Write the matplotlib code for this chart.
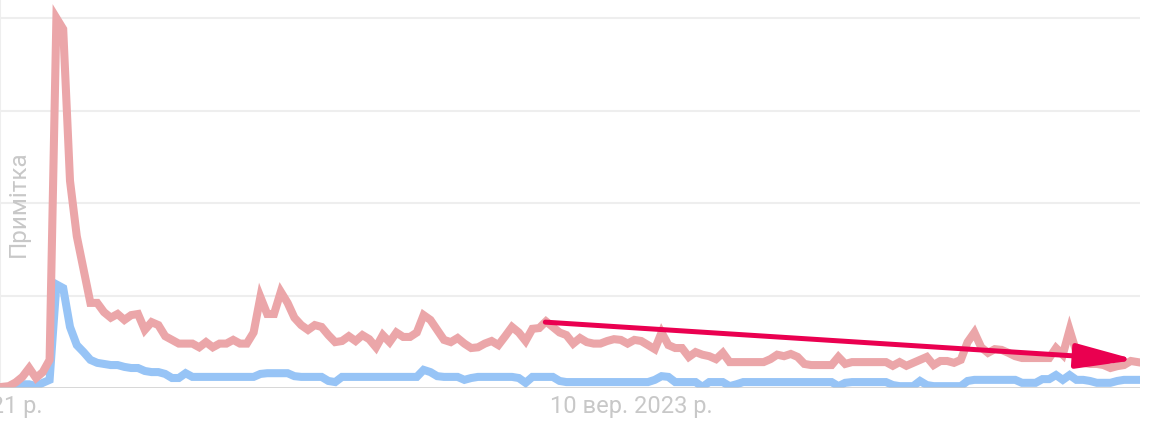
import numpy as np
import matplotlib
matplotlib.use("Agg")
import matplotlib.pyplot as plt
from matplotlib.patches import FancyArrowPatch

plt.rcParams['font.family'] = ['Roboto', 'DejaVu Sans']

# Weekly interest values (0-100)
pink = [0.3, 0.5, 1.5, 3, 5.4, 2.7, 4.3, 7.6, 100, 97,
        56, 41, 32, 23, 23, 20.5, 19, 20, 18.4, 19.7,
        20, 15.7, 17.8, 17, 14, 13, 12, 12, 12, 11,
        12.4, 11, 12, 12, 13, 12, 12, 15, 24.6, 20,
        20, 26, 23, 19, 17, 15.7, 17, 16.5, 14.3, 12.4,
        12.7, 14, 12.7, 14.3, 13.2, 11, 14.3, 12.4, 15, 13.8,
        13.8, 15, 19.7, 18.4, 15.7, 13, 12.4, 13.5, 12, 10.8,
        11, 12, 12.7, 11.6, 14, 16.5, 15, 12.7, 16, 16.2,
        18, 16.5, 15, 14.3, 12, 13.5, 12.4, 12, 12, 12.7,
        13.2, 13, 12, 13, 12.7, 11.6, 10.5, 15, 11.6, 10.8,
        10.8, 8.4, 9.7, 9, 8.6, 7.8, 9.5, 7, 7, 7,
        7, 7, 7, 7.8, 9, 8.6, 9.2, 8.4, 6.5, 6.2,
        6.2, 6.2, 6.2, 8.4, 6.5, 7, 7, 7, 7, 7,
        7, 6, 7, 6, 6.8, 7.6, 8.4, 6.2, 7.3, 7.3,
        6.8, 7.6, 12.4, 15, 11, 9.5, 10.5, 10.3, 9.5, 8.6,
        8.1, 8.1, 8.1, 8.1, 8.1, 10.8, 9, 15.7, 9.7, 6.8,
        6.5, 6.5, 6.2, 5.4, 5.9, 6.2, 7.3, 7]

blue = [0, 0.3, 0.5, 1, 1, 0.5, 1.4, 2.2, 28, 27,
        16.5, 11.6, 9.7, 7.6, 6.8, 6.5, 6.2, 6.2, 5.7, 5.4,
        5.4, 4.6, 4.3, 4.3, 3.8, 2.7, 2.7, 4, 3, 3,
        3, 3, 3, 3, 3, 3, 3, 3, 3.8, 4,
        4, 4, 4, 3.2, 3, 3, 3, 3, 1.9, 1.6,
        3, 3, 3, 3, 3, 3, 3, 3, 3, 3,
        3, 3, 4.9, 4.3, 3.2, 3, 3, 3, 2.2, 2.7,
        3, 3, 3, 3, 3, 3, 2.7, 1.4, 3, 3,
        3, 3, 1.9, 1.6, 1.6, 1.6, 1.6, 1.6, 1.6, 1.6,
        1.6, 1.6, 1.6, 1.6, 1.6, 1.6, 2.2, 3.2, 3, 1.6,
        1.6, 1.6, 1.6, 0.3, 1.6, 1.6, 1.6, 0.5, 1, 1.6,
        1.6, 1.6, 1.6, 1.6, 1.6, 1.6, 1.6, 1.6, 1.6, 1.6,
        1.6, 1.6, 1.6, 0.5, 1.4, 1.6, 1.6, 1.6, 1.6, 1.6,
        1.6, 0.8, 0.5, 0.5, 0.5, 1.9, 0.8, 0.5, 0.5, 0.5,
        0.5, 0.5, 1.9, 2.2, 2.2, 2.2, 2.2, 2.2, 2.2, 2.2,
        1.4, 1.4, 1.4, 2.4, 2.4, 3.5, 2.2, 3.5, 2.2, 2.2,
        1.9, 1.4, 1.4, 1.4, 1.9, 2.2, 2.2, 2.2]

gridlines = [25, 50, 75, 100]
tick_labels = ["10 жовт. 2021 р.", "10 вер. 2023 р."]
y_label = "Примітка"
trend_start = (79.9, 17.8)
trend_end = (166.8, 7.6)

PINK = '#EBA6A9'
BLUE = '#97C4F6'
ARROW = '#EA0050'
TXT = '#C8C8C8'

W, H = 1168, 428
fig = plt.figure(figsize=(W / 100, H / 100), dpi=100)
ax = fig.add_axes([0, 40 / H, 1140 / W, 388 / H])
x = np.arange(len(pink))
ax.set_xlim(-2 / 6.8, 1138 / 6.8)
ax.set_ylim(0, 388 / 3.7)

for g in gridlines:
    ax.axhline(g, color='#EEEEEE', lw=1.5, zorder=1)
ax.axvline(ax.get_xlim()[0], color='#EEEEEE', lw=1.5, zorder=1)

ax.plot(x, blue, color=BLUE, lw=5.8, solid_joinstyle='miter', zorder=3)
ax.plot(x, pink, color=PINK, lw=5.8, solid_joinstyle='miter', zorder=4)

ax.axhline(0, color='#CCCCCC', lw=1.8, zorder=5)

arr = FancyArrowPatch(trend_start, trend_end,
                      arrowstyle='-|>,head_length=36,head_width=7.5',
                      mutation_scale=1, lw=3.6, color=ARROW,
                      shrinkA=0, shrinkB=0, zorder=6)
ax.add_patch(arr)

for s in ax.spines.values():
    s.set_visible(False)
ax.set_xticks([])
ax.set_yticks([])

trans = ax.get_xaxis_transform()
ax.text(6.0, -19 / 388, tick_labels[0], transform=trans, ha='right', va='center',
        fontsize=17, color=TXT, clip_on=False)
ax.text(92.6, -19 / 388, tick_labels[1], transform=trans, ha='center', va='center',
        fontsize=17, color=TXT, clip_on=False)

fig.text(18 / W, 1 - 204 / H, y_label, rotation=90, ha='center', va='center',
         fontsize=17.5, color=TXT)

fig.savefig('out.png', dpi=100)
